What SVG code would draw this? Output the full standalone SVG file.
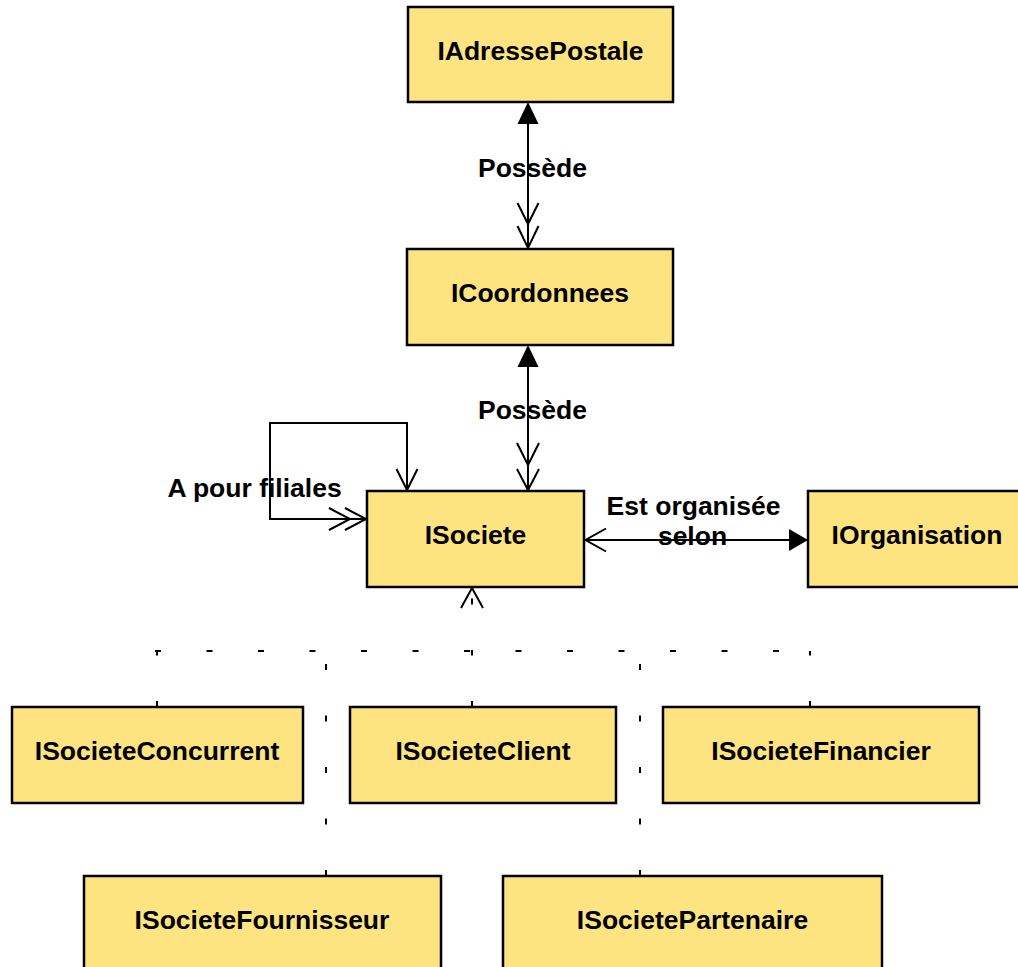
<svg xmlns="http://www.w3.org/2000/svg" width="1018" height="967" viewBox="0 0 1018 967">
<style>
.box{fill:#FEE481;stroke:#000;stroke-width:2.5}
.t{font-family:"Liberation Sans",Arial,sans-serif;font-weight:bold;font-size:26.5px;fill:#000;text-anchor:middle}
.ln{fill:none;stroke:#000;stroke-width:2}
.ds{fill:none;stroke:#000;stroke-width:2;stroke-dasharray:6 45.5}
.tri{fill:#000;stroke:none}
</style>
<rect width="1018" height="967" fill="#fff"/>
<g id="connectors">
  <!-- IAdressePostale - ICoordonnees -->
  <line class="ln" x1="528" y1="104" x2="528" y2="248"/>
  <polygon class="tri" points="528,102 517.5,124 538.5,124"/>
  <polyline class="ln" points="517.5,203 528,224 538.5,203"/>
  <polyline class="ln" points="517.5,226 528,248 538.5,226"/>
  <text class="t" x="532.5" y="177">Possède</text>
  <!-- ICoordonnees - ISociete -->
  <line class="ln" x1="528" y1="347" x2="528" y2="490"/>
  <polygon class="tri" points="528,345 517.5,367 538.5,367"/>
  <polyline class="ln" points="517,443 528,465 539,443"/>
  <polyline class="ln" points="517,469 528,490 539,469"/>
  <text class="t" x="532.5" y="419">Possède</text>
  <!-- self loop A pour filiales -->
  <polyline class="ln" points="407,490 407,423 270,423 270,519 366,519"/>
  <polyline class="ln" points="396.5,469 407,490 417.5,469"/>
  <polyline class="ln" points="329,508 350,519 329,530"/>
  <polyline class="ln" points="345,508 366,519 345,530"/>
  <text class="t" x="254.5" y="497">A pour filiales</text>
  <!-- ISociete - IOrganisation -->
  <line class="ln" x1="586" y1="540" x2="792" y2="540"/>
  <polyline class="ln" points="606,528.5 585.5,540 606,551.5"/>
  <polygon class="tri" points="808,540 789,529 789,551"/>
  <text class="t" x="693.5" y="515">Est organisée</text>
  <text class="t" x="692.5" y="545">selon</text>
  <!-- generalization tree -->
  <polyline class="ln" points="461,608 472,588 483,608"/>
  <line class="ds" x1="472" y1="588" x2="472" y2="651" stroke-dashoffset="41"/>
  <line class="ds" x1="155" y1="651" x2="812" y2="651"/>
  <line class="ds" x1="157" y1="707" x2="157" y2="651"/>
  <line class="ds" x1="472" y1="707" x2="472" y2="651"/>
  <line class="ds" x1="810" y1="707" x2="810" y2="651"/>
  <line class="ds" x1="326" y1="876" x2="326" y2="651"/>
  <line class="ds" x1="640" y1="876" x2="640" y2="651"/>
</g>
<g id="IAdressePostale"><rect class="box" x="408" y="7" width="265" height="95"/><text class="t" x="540.5" y="59.5">IAdressePostale</text></g>
<g id="ICoordonnees"><rect class="box" x="407" y="249" width="266" height="96"/><text class="t" x="540" y="302">ICoordonnees</text></g>
<g id="ISociete"><rect class="box" x="367" y="491" width="217" height="96"/><text class="t" x="475.5" y="543.5">ISociete</text></g>
<g id="IOrganisation"><rect class="box" x="808" y="491" width="218" height="96"/><text class="t" x="917" y="543.5">IOrganisation</text></g>
<g id="ISocieteConcurrent"><rect class="box" x="12" y="707" width="291" height="96"/><text class="t" x="157" y="760">ISocieteConcurrent</text></g>
<g id="ISocieteClient"><rect class="box" x="350" y="707" width="266" height="96"/><text class="t" x="483" y="760">ISocieteClient</text></g>
<g id="ISocieteFinancier"><rect class="box" x="663" y="707" width="316" height="96"/><text class="t" x="821" y="760">ISocieteFinancier</text></g>
<g id="ISocieteFournisseur"><rect class="box" x="84" y="876" width="357" height="96"/><text class="t" x="262" y="929">ISocieteFournisseur</text></g>
<g id="ISocietePartenaire"><rect class="box" x="503" y="876" width="379" height="96"/><text class="t" x="692.5" y="929">ISocietePartenaire</text></g>
</svg>
